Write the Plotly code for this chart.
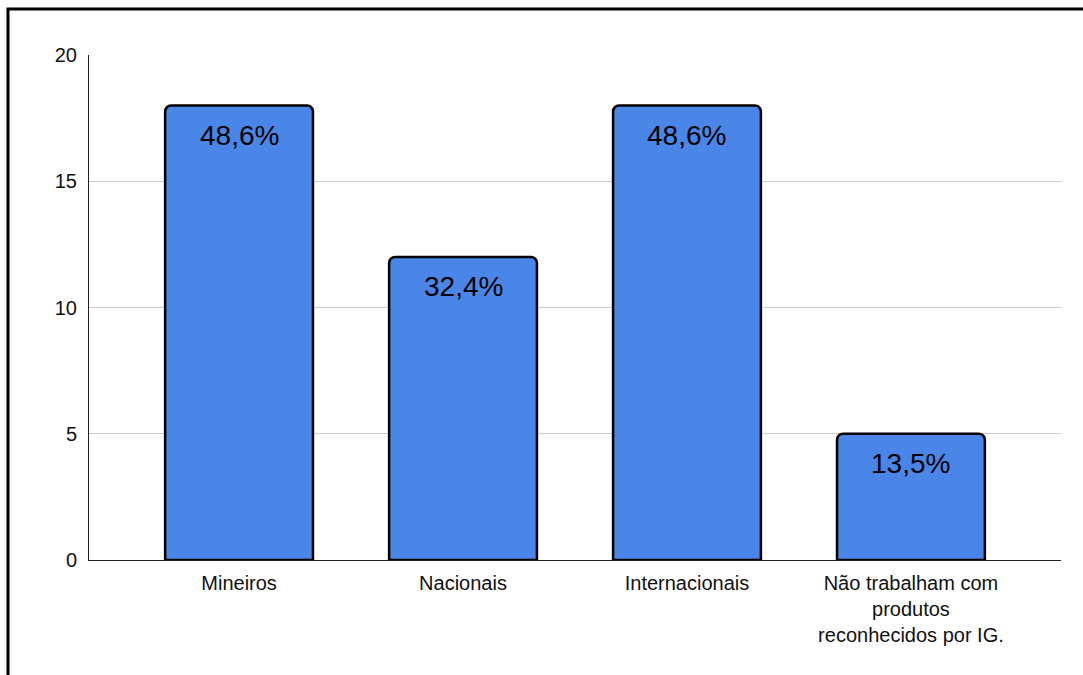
import plotly.graph_objects as go

categories = ["Mineiros", "Nacionais", "Internacionais",
              "Não trabalham com<br>produtos<br>reconhecidos por IG."]
values = [18, 12, 18, 5]
labels = ["48,6%", "32,4%", "48,6%", "13,5%"]
y_ticks = [0, 5, 10, 15, 20]

W, H = 1083, 675
L, R, T, B = 89, 22, 55, 115
pw, ph = W - L - R, H - T - B

fig = go.Figure()
fig.add_trace(go.Bar(
    x=list(range(len(categories))), y=values,
    width=0.66,
    marker=dict(color="#4A86E8", line=dict(color="#000000", width=2.5)),
    hoverinfo="skip",
))

for i, (v, t) in enumerate(zip(values, labels)):
    fig.add_annotation(x=i, y=v, text=t, showarrow=False, xref="x", yref="y",
                       yanchor="top", yshift=-12,
                       font=dict(family="Liberation Sans, Arial", size=28, color="#000"))

# outer frame
fig.add_shape(type="rect", xref="paper", yref="paper",
              x0=(8 - L) / pw, x1=(1095 - L) / pw,
              y0=1 - (690 - T) / ph, y1=1 + (T - 9) / ph,
              line=dict(color="#000", width=3), fillcolor="rgba(0,0,0,0)", layer="above")

fig.update_layout(
    width=W, height=H,
    margin=dict(l=L, r=R, t=T, b=B, pad=0),
    paper_bgcolor="white", plot_bgcolor="white",
    showlegend=False,
    barcornerradius=6,
    font=dict(family="Liberation Sans, Arial", size=20, color="#111"),
    xaxis=dict(
        range=[-0.67, 3.67],
        tickmode="array", tickvals=list(range(len(categories))), ticktext=categories,
        showgrid=False, zeroline=False,
        showline=True, linecolor="#222", linewidth=1,
        ticks="", ticklabelstandoff=5, tickfont=dict(size=20, color="#111"),
    ),
    yaxis=dict(
        range=[0, 20], tickmode="array", tickvals=y_ticks,
        showgrid=True, gridcolor="#cccccc", gridwidth=1,
        zeroline=False,
        showline=True, linecolor="#222", linewidth=1,
        ticks="", ticklabelstandoff=7,
        tickfont=dict(size=20, color="#111"),
    ),
)

fig.write_html("out.html")
